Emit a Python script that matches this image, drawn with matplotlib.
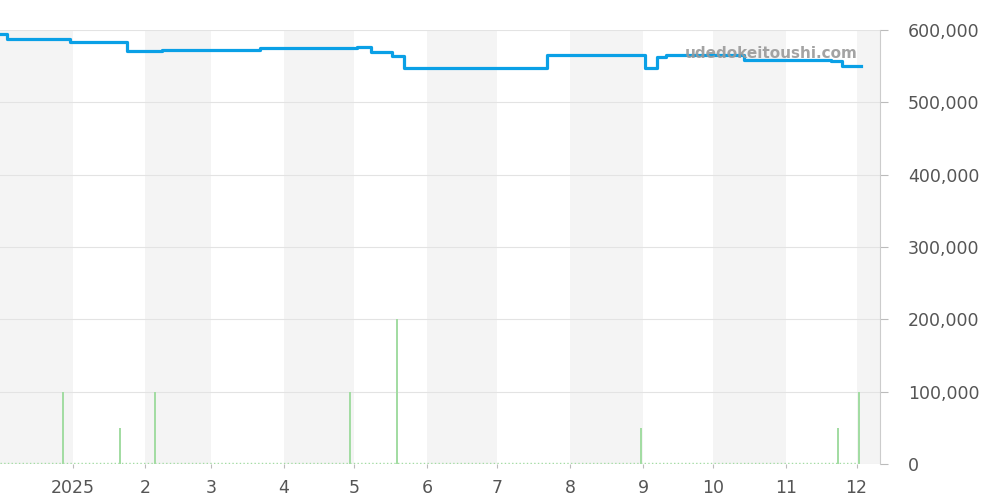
import matplotlib
matplotlib.use("Agg")
import matplotlib.pyplot as plt
import matplotlib.dates as mdates
from matplotlib.ticker import FuncFormatter
import pandas as pd

# price change points (date, yen)
price_dates = ["2024-12-01", "2024-12-04", "2024-12-31", "2025-01-24", "2025-02-08",
               "2025-03-22", "2025-05-02", "2025-05-08", "2025-05-17", "2025-05-22",
               "2025-07-22", "2025-09-02", "2025-09-07", "2025-09-11", "2025-10-14",
               "2025-11-20", "2025-11-25", "2025-12-03"]
price_values = [594000, 587000, 584000, 571000, 572000,
                574500, 576000, 570000, 564000, 547500,
                565000, 547500, 563000, 566000, 558500,
                557500, 550000, 550000]

# sales volume (1 unit = 50,000 on the price scale)
volume_dates = ["2024-12-28", "2025-01-21", "2025-02-05", "2025-04-29",
                "2025-05-19", "2025-08-31", "2025-11-23", "2025-12-02"]
volume_values = [2, 1, 2, 2, 4, 1, 1, 2]

shade_months = ["2024-12", "2025-02", "2025-04", "2025-06", "2025-08", "2025-10", "2025-12"]
tick_months = pd.date_range("2025-01-01", "2025-12-01", freq="MS")

price_x = pd.to_datetime(price_dates)
vol_x = pd.to_datetime(volume_dates)
x_start = pd.Timestamp("2024-12-01")
x_end = pd.Timestamp("2025-12-11")

fig = plt.figure(figsize=(10, 5), dpi=100)
ax = fig.add_axes([0.0, 0.072, 0.880, 0.868])

# volume on a hidden twin axis
ax2 = ax.twinx()
ax2.bar(vol_x, volume_values, width=0.9, color="#a3dca3", zorder=3)
ax2.plot([price_x[0], price_x[-1]], [0.02, 0.02], color="#a3dca3", lw=1, ls=":")
ax2.set_ylim(0, 12)
ax2.set_xlim(x_start, x_end)
ax2.axis("off")

# alternate month shading
for m in shade_months:
    s = pd.Timestamp(m + "-01")
    e = s + pd.offsets.MonthBegin(1)
    ax.axvspan(s, min(e, x_end), color="#f4f4f4", lw=0, zorder=0)

ax2.plot(price_x, [v / 50000 for v in price_values], drawstyle="steps-post",
         color="#0aa0e6", lw=2.3, zorder=4)

ax.set_xlim(x_start, x_end)
ax.set_ylim(0, 600000)
ax.yaxis.tick_right()
ax.set_yticks(range(0, 600001, 100000))
ax.yaxis.set_major_formatter(FuncFormatter(lambda v, p: f"{int(v):,}"))
ax.grid(axis="y", color="#e3e3e3", lw=0.8, zorder=1)
ax.tick_params(axis="y", length=6, color="#bbbbbb", pad=14, labelsize=12.5, labelcolor="#555555")

ax.set_xticks(tick_months)
ax.set_xticklabels([str(d.year) if d.month == 1 else str(d.month) for d in tick_months])
ax.tick_params(axis="x", length=3, color="#bbbbbb", pad=8, labelsize=12.5, labelcolor="#555555")

for side in ["top", "left", "bottom"]:
    ax.spines[side].set_visible(False)
ax.spines["right"].set_color("#cccccc")

ax2.text(0.975, 0.945, "udedokeitoushi.com", transform=ax2.transAxes, ha="right", va="center",
         fontsize=11, fontweight="bold", color="#999999", alpha=0.9, zorder=5)

fig.savefig("out.png", dpi=100)
